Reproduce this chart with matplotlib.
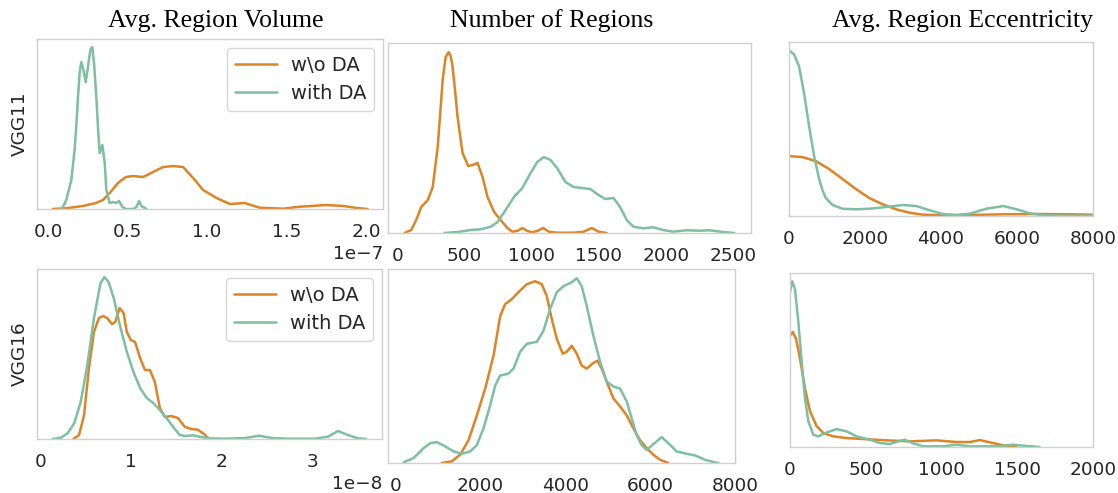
import matplotlib
matplotlib.use("Agg")
import matplotlib.pyplot as plt
import numpy as np

# ---------------- data (y = relative density height) -------------
series_names = ["w\\o DA", "with DA"]
col_titles = ["Avg. Region Volume", "Number of Regions", "Avg. Region Eccentricity"]
row_labels = ["VGG11", "VGG16"]

# VGG11 - Avg. Region Volume (x in units of 1e-7)
vol11_wo_x = [0.031, 0.115, 0.22, 0.30, 0.346, 0.388, 0.44, 0.49, 0.535, 0.598, 0.66, 0.724, 0.787,
              0.85, 0.913, 0.976, 1.06, 1.144, 1.238, 1.33, 1.48, 1.585, 1.75, 1.86, 1.94, 2.01]
vol11_wo_y = [0, 0.7, 3, 6, 9, 16, 26, 32, 33, 32, 37, 42, 43, 42, 31, 19, 11, 5, 6, 1.3, 0.3,
              2.3, 4, 3, 1, 0]
vol11_w_x = [0.088, 0.115, 0.147, 0.168, 0.18, 0.19, 0.20, 0.21, 0.222, 0.237, 0.248, 0.258, 0.268,
             0.279, 0.29, 0.304, 0.315, 0.325, 0.342, 0.357, 0.367, 0.388, 0.41, 0.43, 0.447,
             0.468, 0.49, 0.535, 0.556, 0.573, 0.587, 0.62]
vol11_w_y = [0, 9, 29, 60, 88, 115, 138, 147, 140, 127, 138, 150, 160, 162, 145, 112, 80, 56, 64,
             46, 19, 6, 7, 6, 8, 2, 0, 0, 2, 8, 3, 0]

# VGG11 - Number of Regions
num11_wo_x = [54, 104, 141, 178, 227, 264, 301, 320, 338, 360, 383, 398, 412, 430, 449, 486, 528,
              560, 598, 635, 672, 721, 770, 820, 857, 894, 931, 968, 1005, 1042, 1086, 1128, 1190,
              1314, 1388, 1449, 1499, 1560]
num11_wo_y = [0, 3, 13, 26, 33, 46, 86, 120, 153, 176, 181, 177, 166, 143, 116, 80, 67, 68, 70,
              56, 36, 21, 13, 5, 1.3, 2, 5, 2, 0.7, 2, 5, 1.3, 0.3, 0.3, 1.3, 5, 1.3, 0]
num11_w_x = [351, 449, 548, 622, 696, 746, 807, 869, 931, 993, 1042, 1091, 1141, 1190, 1252, 1314,
             1375, 1437, 1499, 1548, 1610, 1659, 1709, 1758, 1832, 1906, 1980, 2054, 2153, 2252,
             2326, 2425, 2511]
num11_w_y = [0, 1, 3, 3.7, 6.3, 11, 23, 36, 45, 60, 71, 76, 73, 65, 51, 46, 45, 44, 38, 34, 35,
             26, 13, 6.3, 4.7, 5.7, 3, 1.3, 2.7, 2.3, 2.7, 1, 0]

# VGG11 - Avg. Region Eccentricity
ecc11_wo_x = [0, 352, 705, 1057, 1410, 1762, 2114, 2467, 2819, 3172, 3524, 4053, 4757, 5638, 6520,
              7401, 8017]
ecc11_wo_y = [60, 59, 55, 47, 37, 27, 18, 11.7, 6.7, 3.3, 1.3, 0.7, 1, 1.7, 2, 1.7, 1.3]
ecc11_w_x = [0, 132, 264, 396, 529, 661, 793, 880, 969, 1145, 1410, 1762, 2114, 2555, 2995, 3348,
             3700, 4053, 4405, 4757, 5198, 5638, 5991, 6343, 6696, 7224, 8017]
ecc11_w_y = [166, 162, 150, 123, 90, 60, 37, 26, 18, 11, 7.3, 6.7, 7.3, 9, 11, 10, 5.7, 2, 1, 2.3,
             7.3, 10, 6.7, 2.7, 0.7, 0.3, 0.3]

# VGG16 - Avg. Region Volume (x in units of 1e-8)
vol16_wo_x = [0.367, 0.429, 0.484, 0.538, 0.593, 0.647, 0.695, 0.738, 0.793, 0.829, 0.876, 0.92,
              0.956, 1.0, 1.047, 1.102, 1.156, 1.211, 1.265, 1.32, 1.375, 1.447, 1.52, 1.593,
              1.665, 1.738, 1.811, 1.865]
vol16_wo_y = [0, 4, 24, 71, 107, 121, 123, 121, 115, 117, 131, 126, 107, 99, 97, 81, 69, 69, 57,
              31, 22, 23, 21, 12.3, 10, 9.3, 4.7, 0]
vol16_w_x = [0.138, 0.229, 0.302, 0.375, 0.447, 0.52, 0.593, 0.665, 0.709, 0.756, 0.811, 0.884,
             0.956, 1.029, 1.102, 1.175, 1.247, 1.32, 1.393, 1.465, 1.538, 1.611, 1.684, 1.756,
             1.865, 2.047, 2.265, 2.411, 2.556, 2.738, 3.029, 3.175, 3.284, 3.393, 3.502, 3.593]
vol16_w_y = [0, 1.3, 5.7, 15.7, 37, 74, 121, 156, 162, 157, 141, 112, 87, 67, 51, 41, 36, 29, 21,
             12.3, 4, 3, 3.7, 2.3, 0.7, 0.3, 1, 3.3, 1, 0.3, 0.3, 2.3, 8, 4, 0.7, 0]

# VGG16 - Number of Regions
num16_wo_x = [1098, 1333, 1529, 1725, 1922, 2118, 2314, 2471, 2588, 2745, 2902, 3098, 3294, 3451,
              3569, 3686, 3804, 3945, 4039, 4157, 4275, 4392, 4510, 4643, 4761, 4863, 4980, 5137,
              5294, 5451, 5608, 5765, 5922, 6078, 6235, 6431]
num16_wo_y = [0, 1.7, 8.3, 23, 48, 75, 108, 148, 160, 165, 172, 180, 183, 180, 168, 145, 125, 110,
              112, 118, 110, 98, 95, 100, 103, 95, 82, 65, 57, 48, 35, 23, 15, 8.3, 3.3, 0]
num16_w_x = [196, 431, 667, 824, 980, 1176, 1373, 1569, 1765, 1922, 2078, 2235, 2353, 2471, 2667,
             2784, 2941, 3098, 3333, 3490, 3647, 3804, 3961, 4157, 4275, 4392, 4510, 4667, 4824,
             4980, 5137, 5294, 5451, 5569, 5686, 5804, 5922, 6078, 6275, 6431, 6627, 6863, 7059,
             7294, 7490, 7608]
num16_w_y = [0.7, 5, 15, 20, 21, 16.7, 11.7, 9.3, 11.7, 18, 35, 58, 78, 88, 90, 95, 112, 120, 122,
             133, 155, 172, 178, 182, 186, 178, 158, 128, 102, 82, 77, 75, 62, 45, 28, 18, 13, 19,
             26, 20, 11.7, 9.3, 7.7, 3.3, 1, 0]

# VGG16 - Avg. Region Eccentricity
ecc16_wo_x = [0, 18, 40, 66, 99, 132, 176, 220, 286, 374, 484, 637, 791, 967, 1099, 1187, 1253,
              1319, 1407, 1495]
ecc16_wo_y = [112, 116, 109, 89, 59, 36, 21, 14, 10.7, 9, 8, 6.7, 5.7, 6.7, 5, 5, 7, 4.7, 1.7, 0]
ecc16_w_x = [0, 15, 33, 55, 77, 99, 121, 154, 187, 231, 308, 374, 440, 528, 593, 659, 714, 758,
             813, 879, 1011, 1099, 1187, 1363, 1473, 1560, 1648]
ecc16_w_y = [156, 167, 159, 126, 86, 49, 26, 12.3, 10.7, 14, 18, 15.7, 10.7, 7.3, 4, 3, 5.7, 7.3,
             3.7, 0.7, 0.7, 2.3, 0.7, 0.7, 2.3, 1, 0]

x_scale = [[1e-7, 1, 1], [1e-8, 1, 1]]
xlims = [[(-0.069e-7, 2.107e-7), (-69, 2634), (0, 8000)],
         [(-0.035e-8, 3.77e-8), (-172, 8003), (0, 2000)]]

# ---------------- style ----------------
c_wo = "#dd8425"
c_w = "#7dbfa1"
W, H = 1118, 493
fig = plt.figure(figsize=(W / 100, H / 100), dpi=100)

# axes rectangles in pixels: left, top, right, bottom
rects = [[(37, 39, 383, 209), (388, 43, 751, 233), (789, 42, 1093, 216)],
         [(37, 269, 382, 439), (388, 269, 735, 463), (790, 273, 1093, 447)]]

data = [[(vol11_wo_x, vol11_wo_y, vol11_w_x, vol11_w_y),
         (num11_wo_x, num11_wo_y, num11_w_x, num11_w_y),
         (ecc11_wo_x, ecc11_wo_y, ecc11_w_x, ecc11_w_y)],
        [(vol16_wo_x, vol16_wo_y, vol16_w_x, vol16_w_y),
         (num16_wo_x, num16_wo_y, num16_w_x, num16_w_y),
         (ecc16_wo_x, ecc16_wo_y, ecc16_w_x, ecc16_w_y)]]

tick_color = "#262626"
for r in range(2):
    for c in range(3):
        l, t, rr, b = rects[r][c]
        ax = fig.add_axes([l / W, 1 - b / H, (rr - l) / W, (b - t) / H])
        wx, wy, gx, gy = data[r][c]
        s = x_scale[r][c]
        kw = dict(lw=1.8, solid_joinstyle="round", solid_capstyle="round")
        ax.plot(np.array(wx) * s, wy, color=c_wo, label=series_names[0], **kw)
        ax.plot(np.array(gx) * s, gy, color=c_w, label=series_names[1], **kw)
        ymax = max(max(wy), max(gy))
        ax.set_ylim(0, ymax * 1.05)
        ax.set_xlim(*xlims[r][c])
        ax.set_yticks([])
        ax.tick_params(axis="x", length=0, pad=10, labelsize=13.3, labelcolor=tick_color)
        ax.xaxis.get_offset_text().set_fontsize(13.3)
        ax.xaxis.get_offset_text().set_color(tick_color)
        for sp in ax.spines.values():
            sp.set_color("#d0d0d0")
            sp.set_linewidth(1.0)
        if c == 0:
            leg = ax.legend(loc="upper right", fontsize=14, handlelength=2.2, handletextpad=0.7,
                            frameon=True, fancybox=True, edgecolor="#cccccc",
                            borderaxespad=0.45)
            for txt in leg.get_texts():
                txt.set_color(tick_color)

# titles
title_x = [216, 552, 963]
for tx, ttl in zip(title_x, col_titles):
    fig.text(tx / W, 1 - 27 / H, ttl, ha="center", va="baseline",
             fontsize=18.5, family="Liberation Serif", color="black")

# row labels
for y, lab in zip([124, 354], row_labels):
    fig.text(20 / W, 1 - y / H, lab, rotation=90, ha="center", va="center",
             fontsize=13.3, color=tick_color)

fig.savefig("out.png", dpi=100)
